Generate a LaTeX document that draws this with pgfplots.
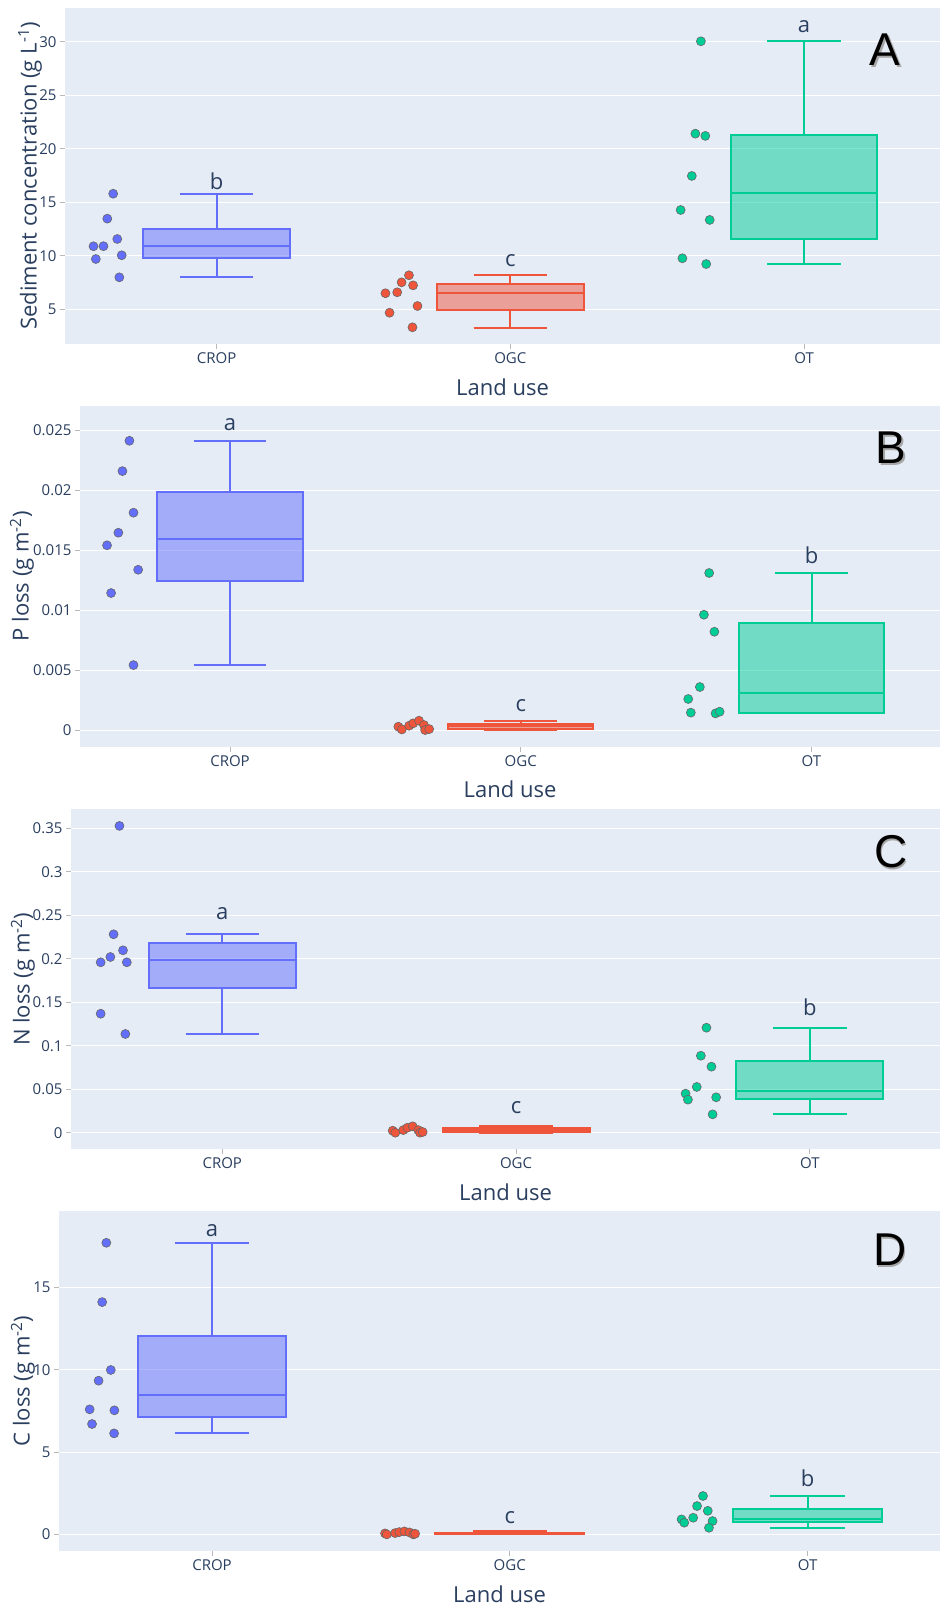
\documentclass[border=0pt]{standalone}
\usepackage{fontspec}
\setmainfont{Open Sans}
\newfontfamily\arialf{Liberation Sans}
\usepackage{pgfplots}
\pgfplotsset{compat=1.18}
\usepgfplotslibrary{statistics}
\definecolor{bgc}{HTML}{E5ECF6}
\definecolor{fg}{HTML}{2A3F5F}
\definecolor{cb}{HTML}{636EFA}
\definecolor{cr}{HTML}{EF553B}
\definecolor{cg}{HTML}{00CC96}
\tikzset{lett/.style={anchor=base, font=\fontsize{22}{26}\selectfont, text=fg}}
\pgfplotsset{
 panel/.style={
  scale only axis, anchor=north west,
  axis background/.style={fill=bgc},
  axis line style={draw=none},
  ymajorgrids, major grid style={white, line width=1pt},
  xtick={0,1,2}, xticklabels={CROP,OGC,OT},
  xtick pos=left, ytick pos=left,
  tick align=outside, major tick length=5pt,
  tick style={draw=gray!55, line width=0.8pt},
  ticklabel style={font=\fontsize{15}{18}\selectfont, text=fg},
  /pgf/number format/assume math mode=true,
  xlabel={Land use},
  xlabel style={at={(axis description cs:0.5,0)}, anchor=center, yshift=-43pt, font=\fontsize{22}{26}\selectfont, text=fg},
  ylabel style={anchor=center, font=\fontsize{22}{26}\selectfont, text=fg},
  clip mode=individual,
  boxplot/draw direction=y,
 },
 zl/.style={extra y ticks={0}, extra y tick labels={}, extra y tick style={grid style={white, line width=2pt}, major tick length=0pt}},
 boxb/.style={boxplot/draw direction=y, draw=cb, fill=cb, fill opacity=0.5, line width=2pt},
 boxr/.style={boxplot/draw direction=y, draw=cr, fill=cr, fill opacity=0.5, line width=2pt},
 boxg/.style={boxplot/draw direction=y, draw=cg, fill=cg, fill opacity=0.5, line width=2pt},
 ptb/.style={only marks, mark=*, mark size=4.5pt, mark options={fill=cb, draw=black!60, line width=0.6pt}},
 ptr/.style={only marks, mark=*, mark size=4.5pt, mark options={fill=cr, draw=black!60, line width=0.6pt}},
 ptg/.style={only marks, mark=*, mark size=4.5pt, mark options={fill=cg, draw=black!60, line width=0.6pt}},
}
\newcommand{\panelletter}[3]{%
 \node[font=\arialf\fontsize{46}{46}\selectfont, text=black!35] at (#1pt+1.5pt,#2pt-1.5pt) {#3};
 \node[font=\arialf\fontsize{46}{46}\selectfont, text=black] at (#1pt,#2pt) {#3};}
\begin{document}
\begin{tikzpicture}
\path[use as bounding box, fill=white] (0pt,0pt) rectangle (940pt,-1605pt);

% ---------------- Panel A
\begin{axis}[panel, at={(65pt,-8pt)}, width=875pt, height=336pt,
  xmin=-0.516, xmax=2.463, ymin=1.76, ymax=33.15,
  ytick={5,10,15,20,25,30}, yticklabels={5,10,15,20,25,30},
  ylabel={Sediment concentration (g L\textsuperscript{-1})},
  ylabel style={at={(axis description cs:-0.04,0.5)}}]
\addplot[boxb, boxplot prepared={draw position=0, lower whisker=7.99, lower quartile=9.82, median=10.92, upper quartile=12.53, upper whisker=15.8, box extend=0.5, whisker extend=0.25}] coordinates {};
\addplot[boxr, boxplot prepared={draw position=1, lower whisker=3.28, lower quartile=4.93, median=6.5, upper quartile=7.36, upper whisker=8.18, box extend=0.5, whisker extend=0.25}] coordinates {};
\addplot[boxg, boxplot prepared={draw position=2, lower whisker=9.23, lower quartile=11.54, median=15.84, upper quartile=21.29, upper whisker=30.04, box extend=0.5, whisker extend=0.25}] coordinates {};
\addplot[ptb] coordinates {(-0.352,15.8) (-0.372,13.47) (-0.338,11.57) (-0.419,10.89) (-0.385,10.9) (-0.411,9.7) (-0.323,10.05) (-0.331,7.99)};
\addplot[ptr] coordinates {(0.575,6.5) (0.615,6.59) (0.63,7.52) (0.655,8.18) (0.669,7.24) (0.589,4.68) (0.684,5.31) (0.667,3.32)};
\addplot[ptg] coordinates {(1.649,30.04) (1.63,21.41) (1.664,21.2) (1.618,17.46) (1.58,14.28) (1.679,13.35) (1.586,9.77) (1.667,9.23)};
\node[lett] at (axis cs:0,16.15) {b};
\node[lett] at (axis cs:1,8.98) {c};
\node[lett] at (axis cs:2,30.84) {a};
\end{axis}

% ---------------- Panel B  (values in units of 0.001 g m^-2)
\begin{axis}[panel, zl, at={(80pt,-406pt)}, width=860pt, height=340.7pt,
  xmin=-0.516, xmax=2.442, ymin=-1.39, ymax=27.03,
  ytick={0,5,10,15,20,25}, yticklabels={0,0.005,0.01,0.015,0.02,0.025},
  ylabel={P loss (g m\textsuperscript{-2})},
  ylabel style={at={(axis description cs:-0.0674,0.5)}}]
\addplot[boxb, boxplot prepared={draw position=0, lower whisker=5.42, lower quartile=12.4, median=15.93, upper quartile=19.85, upper whisker=24.13, box extend=0.5, whisker extend=0.25}] coordinates {};
\addplot[boxr, boxplot prepared={draw position=1, lower whisker=0.0, lower quartile=0.06, median=0.3, upper quartile=0.5, upper whisker=0.78, box extend=0.5, whisker extend=0.25}] coordinates {};
\addplot[boxg, boxplot prepared={draw position=2, lower whisker=1.39, lower quartile=1.45, median=3.06, upper quartile=8.9, upper whisker=13.1, box extend=0.5, whisker extend=0.25}] coordinates {};
\addplot[ptb] coordinates {(-0.346,24.13) (-0.37,21.6) (-0.332,18.13) (-0.384,16.46) (-0.423,15.41) (-0.316,13.37) (-0.409,11.43) (-0.332,5.42)};
\addplot[ptr] coordinates {(0.579,0.28) (0.591,0.05) (0.616,0.36) (0.63,0.56) (0.65,0.78) (0.667,0.42) (0.671,0.0) (0.685,0.08)};
\addplot[ptg] coordinates {(1.648,13.1) (1.63,9.62) (1.666,8.2) (1.616,3.59) (1.576,2.59) (1.585,1.45) (1.67,1.39) (1.684,1.53)};
\node[lett] at (axis cs:0,24.97) {a};
\node[lett] at (axis cs:1,1.53) {c};
\node[lett] at (axis cs:2,13.9) {b};
\end{axis}

% ---------------- Panel C
\begin{axis}[panel, zl, at={(71pt,-809.3pt)}, width=869pt, height=340pt,
  xmin=-0.515, xmax=2.443, ymin=-0.0191, ymax=0.3718,
  ytick={0,0.05,0.1,0.15,0.2,0.25,0.3,0.35}, yticklabels={0,0.05,0.1,0.15,0.2,0.25,0.3,0.35},
  ylabel={N loss (g m\textsuperscript{-2})},
  ylabel style={at={(axis description cs:-0.0552,0.5)}}]
\addplot[boxb, boxplot prepared={draw position=0, lower whisker=0.1135, lower quartile=0.166, median=0.1986, upper quartile=0.2185, upper whisker=0.2281, box extend=0.5, whisker extend=0.25}] coordinates {};
\addplot[boxr, boxplot prepared={draw position=1, lower whisker=0.0, lower quartile=0.0005, median=0.003, upper quartile=0.005, upper whisker=0.0073, box extend=0.5, whisker extend=0.25}] coordinates {};
\addplot[boxg, boxplot prepared={draw position=2, lower whisker=0.0211, lower quartile=0.0388, median=0.0483, upper quartile=0.0824, upper whisker=0.1207, box extend=0.5, whisker extend=0.25}] coordinates {};
\addplot[ptb] coordinates {(-0.35,0.3527) (-0.37,0.2281) (-0.338,0.2097) (-0.381,0.202) (-0.414,0.1959) (-0.325,0.1959) (-0.414,0.1368) (-0.33,0.1135)};
\addplot[ptr] coordinates {(0.58,0.0023) (0.589,0.0) (0.616,0.003) (0.63,0.0057) (0.648,0.0073) (0.667,0.003) (0.673,0.0) (0.682,0.0008)};
\addplot[ptg] coordinates {(1.648,0.1207) (1.629,0.0885) (1.665,0.0759) (1.615,0.0526) (1.577,0.0449) (1.585,0.038) (1.681,0.0407) (1.669,0.0211)};
\node[lett] at (axis cs:0,0.2446) {a};
\node[lett] at (axis cs:1,0.0223) {c};
\node[lett] at (axis cs:2,0.1353) {b};
\end{axis}

% ---------------- Panel D
\begin{axis}[panel, zl, at={(59pt,-1211pt)}, width=881pt, height=340pt,
  xmin=-0.514, xmax=2.445, ymin=-1.01, ymax=19.63,
  ytick={0,5,10,15}, yticklabels={0,5,10,15},
  ylabel={C loss (g m\textsuperscript{-2})},
  ylabel style={at={(axis description cs:-0.0409,0.5)}}]
\addplot[boxb, boxplot prepared={draw position=0, lower whisker=6.13, lower quartile=7.1, median=8.46, upper quartile=12.02, upper whisker=17.7, box extend=0.5, whisker extend=0.25}] coordinates {};
\addplot[boxr, boxplot prepared={draw position=1, lower whisker=0.0, lower quartile=0.02, median=0.06, upper quartile=0.1, upper whisker=0.18, box extend=0.5, whisker extend=0.25}] coordinates {};
\addplot[boxg, boxplot prepared={draw position=2, lower whisker=0.4, lower quartile=0.77, median=0.91, upper quartile=1.54, upper whisker=2.33, box extend=0.5, whisker extend=0.25}] coordinates {};
\addplot[ptb] coordinates {(-0.355,17.7) (-0.369,14.1) (-0.34,9.98) (-0.381,9.33) (-0.411,7.59) (-0.328,7.53) (-0.403,6.7) (-0.329,6.13)};
\addplot[ptr] coordinates {(0.581,0.06) (0.587,0.0) (0.615,0.08) (0.629,0.14) (0.646,0.18) (0.663,0.12) (0.676,0.0) (0.682,0.04)};
\addplot[ptg] coordinates {(1.649,2.33) (1.629,1.72) (1.665,1.43) (1.616,1.01) (1.577,0.91) (1.586,0.71) (1.681,0.81) (1.669,0.4)};
\node[lett] at (axis cs:0,18.11) {a};
\node[lett] at (axis cs:1,0.67) {c};
\node[lett] at (axis cs:2,2.93) {b};
\end{axis}

\panelletter{885}{-50}{A}
\panelletter{891}{-448}{B}
\panelletter{891}{-852}{C}
\panelletter{890}{-1250}{D}
\end{tikzpicture}
\end{document}
